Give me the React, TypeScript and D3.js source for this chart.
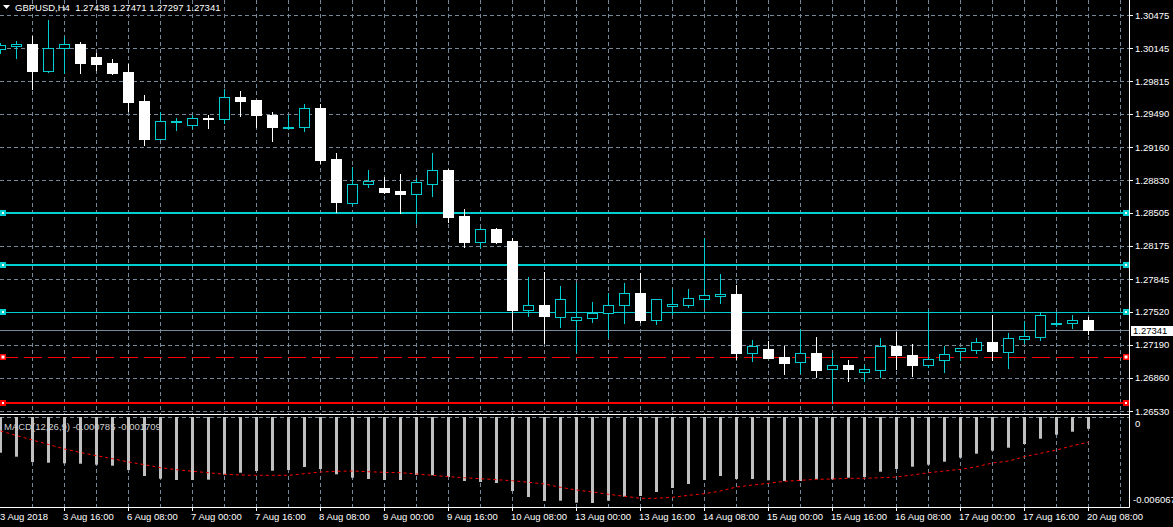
import React from 'react';
import * as d3 from 'd3';

// ---------- data ----------
const chartTitle = 'GBPUSD,H4  1.27438 1.27471 1.27297 1.27341';
const macdTitle = 'MACD(12,26,9) -0.000785 -0.001709';

const opens = [1.30136, 1.30169, 1.30186, 1.2992, 1.30143, 1.30186, 1.30057, 1.29997, 1.29907, 1.29618,
  1.29243, 1.29412, 1.29382, 1.29449, 1.29436, 1.29658, 1.29628, 1.29479, 1.29346, 1.29356,
  1.29549, 1.29041, 1.28605, 1.28788, 1.28752, 1.28722, 1.28695, 1.28794, 1.28931, 1.28473,
  1.28217, 1.28343, 1.28224, 1.27539, 1.27586, 1.2747, 1.27434, 1.2746, 1.27503, 1.27583,
  1.27706, 1.2744, 1.27579, 1.27589, 1.27649, 1.27679, 1.27695, 1.27111, 1.27148, 1.27068,
  1.27015, 1.27108, 1.26951, 1.26988, 1.26921, 1.26942, 1.27178, 1.27088, 1.26991, 1.27041,
  1.27125, 1.27141, 1.27214, 1.27121, 1.2725, 1.2727, 1.274, 1.27404, 1.27438];
const highs = [1.30196, 1.30216, 1.30269, 1.30425, 1.30259, 1.30206, 1.30093, 1.30034, 1.29987, 1.29678,
  1.29506, 1.29452, 1.29479, 1.29479, 1.29735, 1.29721, 1.29633, 1.29509, 1.29479, 1.29588,
  1.29585, 1.29097, 1.28958, 1.28931, 1.28858, 1.28891, 1.28848, 1.29097, 1.28936, 1.28542,
  1.28356, 1.28353, 1.2825, 1.27865, 1.27915, 1.27775, 1.27802, 1.27616, 1.27706, 1.27805,
  1.27905, 1.27646, 1.27745, 1.27742, 1.28254, 1.27895, 1.27785, 1.27237, 1.27227, 1.27178,
  1.27347, 1.27267, 1.27105, 1.27038, 1.26985, 1.27257, 1.2732, 1.27198, 1.27536, 1.27181,
  1.27158, 1.2726, 1.27486, 1.27304, 1.27424, 1.27519, 1.27519, 1.27483, 1.27471];
const lows = [1.30096, 1.3005, 1.29735, 1.2991, 1.29894, 1.299, 1.2993, 1.29887, 1.29522, 1.29183,
  1.29237, 1.29329, 1.29352, 1.29352, 1.29402, 1.29469, 1.29356, 1.29223, 1.29344, 1.29322,
  1.28998, 1.28516, 1.28582, 1.28765, 1.28699, 1.28506, 1.284, 1.28675, 1.2841, 1.28167,
  1.28161, 1.28207, 1.27337, 1.27476, 1.27208, 1.2737, 1.27118, 1.2742, 1.27264, 1.2741,
  1.2742, 1.27397, 1.27499, 1.27569, 1.27563, 1.27609, 1.27045, 1.27031, 1.27059, 1.26899,
  1.26906, 1.26872, 1.26607, 1.26832, 1.26832, 1.26872, 1.26951, 1.26882, 1.26965, 1.26921,
  1.27038, 1.27111, 1.27038, 1.26961, 1.27204, 1.2724, 1.2738, 1.2736, 1.27297];
const closes = [1.30176, 1.30183, 1.2992, 1.30143, 1.30186, 1.3, 1.2999, 1.299, 1.29611, 1.29243,
  1.29419, 1.29422, 1.29446, 1.29447, 1.29655, 1.29621, 1.29482, 1.29362, 1.29359, 1.29546,
  1.29034, 1.28615, 1.28791, 1.28821, 1.28715, 1.28695, 1.28808, 1.28928, 1.28466, 1.28217,
  1.2834, 1.28217, 1.27539, 1.27583, 1.27479, 1.27643, 1.27464, 1.27503, 1.27583, 1.27702,
  1.27437, 1.27643, 1.27596, 1.27653, 1.27682, 1.27695, 1.27111, 1.27175, 1.27061, 1.27011,
  1.27105, 1.26942, 1.26985, 1.26951, 1.26945, 1.27178, 1.27088, 1.26988, 1.27048, 1.27095,
  1.27155, 1.27214, 1.27131, 1.27254, 1.27274, 1.27483, 1.27407, 1.27437, 1.27341];

const macdMain = [-0.002441, -0.002718, -0.003086, -0.003134, -0.003176, -0.003203, -0.003273, -0.003342, -0.00364, -0.004056,
  -0.004244, -0.004334, -0.004334, -0.004313, -0.003966, -0.003828, -0.00371, -0.003689, -0.00364, -0.003432,
  -0.003571, -0.003939, -0.004174, -0.004264, -0.004334, -0.004334, -0.003987, -0.004008, -0.004126, -0.004403,
  -0.004472, -0.004542, -0.005096, -0.005513, -0.00579, -0.005769, -0.005908, -0.005929, -0.005769, -0.005492,
  -0.005443, -0.005166, -0.004888, -0.004611, -0.004334, -0.004056, -0.004264, -0.004264, -0.004355, -0.004403,
  -0.004403, -0.004285, -0.004285, -0.004174, -0.004126, -0.003758, -0.003571, -0.003412, -0.003273, -0.003065,
  -0.002787, -0.00251, -0.002302, -0.002094, -0.001838, -0.00147, -0.001193, -0.000985, -0.000785];
const macdSignal = [-0.000936, -0.001248, -0.00156, -0.001872, -0.002184, -0.002427, -0.002649, -0.002857, -0.003086, -0.003273,
  -0.003481, -0.00362, -0.00373, -0.003828, -0.003939, -0.003987, -0.004008, -0.004008, -0.004008, -0.003897,
  -0.003779, -0.00373, -0.00371, -0.003758, -0.0038, -0.003828, -0.003918, -0.004008, -0.004105, -0.004174,
  -0.004244, -0.004313, -0.004382, -0.004493, -0.004611, -0.00484, -0.005027, -0.005166, -0.005325, -0.005464,
  -0.005603, -0.005603, -0.005533, -0.005395, -0.005284, -0.005096, -0.004819, -0.004681, -0.004563, -0.004424,
  -0.004355, -0.004285, -0.004264, -0.004216, -0.004216, -0.004174, -0.004126, -0.003987, -0.003828, -0.00371,
  -0.003592, -0.003412, -0.003155, -0.003016, -0.002718, -0.002482, -0.002254, -0.001955, -0.001709];

const priceTicks = [1.30475, 1.30145, 1.29815, 1.2949, 1.2916, 1.2883, 1.28505, 1.28175, 1.27845, 1.2752, 1.2719, 1.2686, 1.2653];
const macdRange = [-0.006067, 0];
const timeLabels = ['3 Aug 2018', '3 Aug 16:00', '6 Aug 08:00', '7 Aug 00:00', '7 Aug 16:00', '8 Aug 08:00',
  '9 Aug 00:00', '9 Aug 16:00', '10 Aug 08:00', '13 Aug 00:00', '13 Aug 16:00', '14 Aug 08:00',
  '15 Aug 00:00', '15 Aug 16:00', '16 Aug 08:00', '17 Aug 00:00', '17 Aug 16:00', '20 Aug 08:00'];
const timeLabelBars = [0, 4, 8, 12, 16, 20, 24, 28, 32, 36, 40, 44, 48, 52, 56, 60, 64, 68];
const levelPrices = [1.28505, 1.27988, 1.2752, 1.27065, 1.26613];
const currentPrice = 1.27341;

// ---------- styles ----------
const CYAN = '#00CED1';
const RED = '#FF0000';
const GRID = '#778899';
const FONT = '"Liberation Sans", Arial, sans-serif';
const levelStyles = [
  { color: CYAN, width: 2, dash: null, marker: 'fill' },
  { color: CYAN, width: 2, dash: null, marker: 'fill' },
  { color: CYAN, width: 1, dash: null, marker: 'fill' },
  { color: RED, width: 1, dash: '18,6', marker: 'outline' },
  { color: RED, width: 2, dash: null, marker: 'fill' },
];

export default function App() {
  const W = 1173;
  const H = 527;
  const axisX = 1129;
  const mainBottom = 414;
  const subTop = 417;
  const subBottom = 507;

  const x = d3.scaleLinear().domain([0, 68]).range([0, 1088]);
  const y = d3.scaleLinear().domain([priceTicks[priceTicks.length - 1], priceTicks[0]]).range([411, 15]);
  const ym = d3.scaleLinear().domain(macdRange).range([505, 417.5]);

  const px = (v: number) => Math.round(v) + 0.5;
  const gridBars = d3.range(2, 71, 2);

  const signalLine = d3
    .line<number>()
    .x((_, i) => x(i) + 0.5)
    .y((d) => ym(d))(macdSignal);

  return (
    <div style={{ position: 'fixed', left: 0, top: 0, width: W, height: H, background: '#000', overflow: 'hidden' }}>
      <svg width={W} height={H} style={{ display: 'block', fontFamily: FONT }}>
        <rect x={0} y={0} width={W} height={H} fill="#000" />

        {/* horizontal grid */}
        {priceTicks.map((t) => (
          <line key={'hg' + t} x1={0} x2={axisX} y1={px(y(t))} y2={px(y(t))} stroke={GRID} strokeDasharray="4,3" />
        ))}
        {/* vertical grid */}
        {gridBars.map((b) => (
          <line key={'vg' + b} x1={x(b) + 0.5} x2={x(b) + 0.5} y1={0} y2={subBottom} stroke={GRID} strokeDasharray="4,3" />
        ))}

        {/* level lines */}
        {levelPrices.map((p, k) => {
          const s = levelStyles[k];
          const yy = s.width === 2 ? Math.round(y(p)) : px(y(p));
          return (
            <line key={'lv' + k} x1={0} x2={axisX} y1={yy} y2={yy} stroke={s.color} strokeWidth={s.width}
              strokeDasharray={s.dash || undefined} />
          );
        })}

        {/* current price line */}
        <line x1={0} x2={axisX} y1={px(y(currentPrice))} y2={px(y(currentPrice))} stroke={GRID} />

        {/* candles */}
        {opens.map((o, i) => {
          const c = closes[i];
          const bull = c > o;
          const cx = x(i) + 0.5;
          const yh = Math.round(y(highs[i]));
          const yl = Math.round(y(lows[i]));
          const yt = Math.round(y(Math.max(o, c)));
          const yb = Math.round(y(Math.min(o, c)));
          const col = bull ? CYAN : '#FFFFFF';
          return (
            <g key={'c' + i}>
              <line x1={cx} x2={cx} y1={yh} y2={yl + 1} stroke={col} />
              {bull ? (
                <rect x={x(i) - 4.5} y={yt + 0.5} width={10} height={Math.max(yb - yt, 1)} fill="#000" stroke={CYAN} />
              ) : (
                <rect x={x(i) - 5} y={yt} width={11} height={Math.max(yb - yt + 1, 2)} fill="#FFFFFF" />
              )}
            </g>
          );
        })}

        {/* level markers */}
        {levelPrices.map((p, k) => {
          const s = levelStyles[k];
          const yy = Math.round(y(p));
          return [0, axisX - 6].map((mx) => (
            <g key={'mk' + k + '-' + mx}>
              {s.marker === 'fill' ? (
                <>
                  <rect x={mx} y={yy - 3} width={6} height={6} fill={s.color} />
                  <rect x={mx + 2} y={yy - 1} width={2} height={2} fill="#FFFFFF" />
                </>
              ) : (
                <rect x={mx + 0.75} y={yy - 2.25} width={4.5} height={4.5} fill="#FFFFFF" stroke={s.color} strokeWidth={1.5} />
              )}
            </g>
          ));
        })}

        {/* panel frames */}
        <rect x={0} y={mainBottom} width={axisX} height={3} fill="#000" />
        <line x1={0} x2={axisX + 0.5} y1={mainBottom + 0.5} y2={mainBottom + 0.5} stroke="#FFFFFF" />
        <line x1={0} x2={axisX} y1={subTop + 0.5} y2={subTop + 0.5} stroke={GRID} strokeDasharray="4,3" />

        {/* MACD histogram */}
        {macdMain.map((v, i) => (
          <rect key={'h' + i} x={x(i) - 1} y={subTop} width={3} height={Math.max(0, ym(v) - subTop)} fill="#C0C0C0" />
        ))}
        <path d={signalLine || ''} fill="none" stroke={RED} strokeWidth={1} strokeDasharray="3,3" />

        {/* axes */}
        <line x1={axisX + 0.5} x2={axisX + 0.5} y1={0} y2={subBottom + 0.5} stroke="#FFFFFF" />
        <line x1={0} x2={axisX + 0.5} y1={subBottom + 0.5} y2={subBottom + 0.5} stroke="#FFFFFF" />

        {/* price axis */}
        {priceTicks.map((t) => (
          <g key={'pt' + t}>
            <line x1={axisX} x2={axisX + 4} y1={px(y(t))} y2={px(y(t))} stroke="#FFFFFF" />
            <text x={1135} y={y(t) + 3.5} fill="#FFFFFF" fontSize={9.5}>{t.toFixed(5)}</text>
          </g>
        ))}
        <rect x={1131} y={Math.round(y(currentPrice)) - 4} width={42} height={10} fill="#FFFFFF" />
        <text x={1133} y={y(currentPrice) + 4} fill="#000" fontSize={9.5}>{currentPrice.toFixed(5)}</text>

        {/* macd axis */}
        <text x={1135} y={426.5} fill="#FFFFFF" fontSize={9.5}>{String(macdRange[1])}</text>
        <text x={1133} y={502.5} fill="#FFFFFF" fontSize={9.5}>{macdRange[0].toFixed(6)}</text>

        {/* time axis */}
        {timeLabels.map((lab, k) => {
          const b = timeLabelBars[k];
          const tx = x(b);
          return (
            <g key={'tl' + k}>
              {b > 0 && <line x1={tx + 0.5} x2={tx + 0.5} y1={subBottom} y2={subBottom + 4} stroke="#FFFFFF" />}
              <text x={b > 0 ? tx - 1 : 0} y={519.5} fill="#FFFFFF" fontSize={9.5}>{lab}</text>
            </g>
          );
        })}

        {/* titles */}
        <path d="M3,5 L10,5 L6.5,9 Z" fill="#FFFFFF" />
        <text x={15} y={11} fill="#FFFFFF" fontSize={9.5} style={{ whiteSpace: 'pre' }}>{chartTitle}</text>
        <text x={4} y={429.5} fill="#D0D0D0" fontSize={9.5}>{macdTitle}</text>
      </svg>
    </div>
  );
}
